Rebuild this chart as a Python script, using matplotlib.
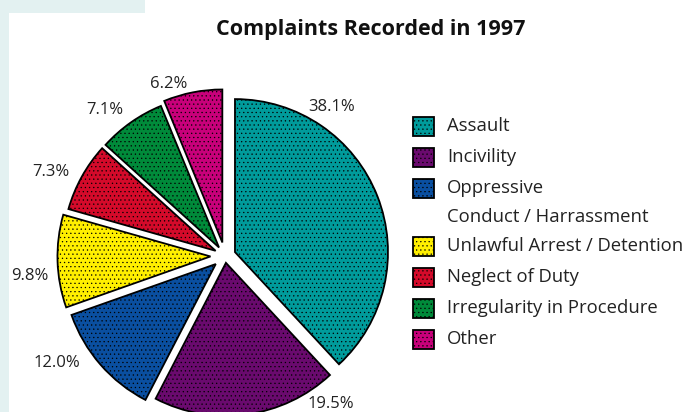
import matplotlib.pyplot as plt
from matplotlib.patches import Rectangle

# data
categories = ['Assault', 'Incivility', 'Oppressive\nConduct / Harrassment',
              'Unlawful Arrest / Detention', 'Neglect of Duty',
              'Irregularity in Procedure', 'Other']
shares = [38.1, 19.5, 12.0, 9.8, 7.3, 7.1, 6.2]
colors = ['#009b9b', '#6a0a6e', '#0a4fa0', '#ffef00', '#d40a2a', '#008a3a', '#c8007a']
explode = [0.07, 0.045, 0.08, 0.095, 0.07, 0.068, 0.09]

# label positions in pixels (hand placed like the original)
label_px = [(332, 107), (331, 404), (57, 363), (30, 276), (51, 172), (105, 110), (169, 84)]

W, H = 693, 412
cx, cy, r = 225, 256, 153  # pie centre and radius in pixels

plt.rcParams['hatch.linewidth'] = 0.4
fig = plt.figure(figsize=(W / 100, H / 100), dpi=100)
fig.patch.set_facecolor('white')

# light panel edges from the page behind the chart
fig.patches.append(Rectangle((0, 0), 9 / W, 1, transform=fig.transFigure,
                             facecolor='#e3f1f1', edgecolor='none', zorder=0))
fig.patches.append(Rectangle((0, 1 - 12.5 / H), 145 / W, 12.5 / H, transform=fig.transFigure,
                             facecolor='#e3f1f1', edgecolor='none', zorder=0))

ax = fig.add_axes([0, 0, 1, 1])
wedges, _ = ax.pie(shares, colors=colors, explode=explode, startangle=90,
                   counterclock=False, radius=1.0,
                   wedgeprops=dict(edgecolor='black', linewidth=1.3))
for w in wedges:
    w.set_hatch('....')
ax.set_xlim(-cx / r, (W - cx) / r)
ax.set_ylim(-(H - cy) / r, cy / r)
ax.set_aspect('equal')
ax.axis('off')

def px(x, y):
    return (x - cx) / r, (cy - y) / r

for val, (lx, ly) in zip(shares, label_px):
    ax.text(*px(lx, ly), f'{val:.1f}%', ha='center', va='center',
            fontsize=12, color='#222222', family='Open Sans')

fig.text(371 / W, 1 - 30 / H, 'Complaints Recorded in 1997', ha='center', va='center',
         fontsize=15.5, fontweight='bold', color='#111111', family='Open Sans')

# legend drawn by hand so the box sits on the first line of a two-line label
y = 126
for name, col in zip(categories, colors):
    box = Rectangle(((413) / W, 1 - (y + 10) / H), 21 / W, 19 / H, transform=fig.transFigure,
                    facecolor=col, edgecolor='black', linewidth=1.3, hatch='....')
    fig.patches.append(box)
    lines = name.split('\n')
    for k, line in enumerate(lines):
        fig.text(447 / W, 1 - (y + 29 * k) / H, line, ha='left', va='center',
                 fontsize=13.3, color='#222222', family='Open Sans')
    y += 31 + 27 * (len(lines) - 1)

fig.savefig('out.png', dpi=100)
